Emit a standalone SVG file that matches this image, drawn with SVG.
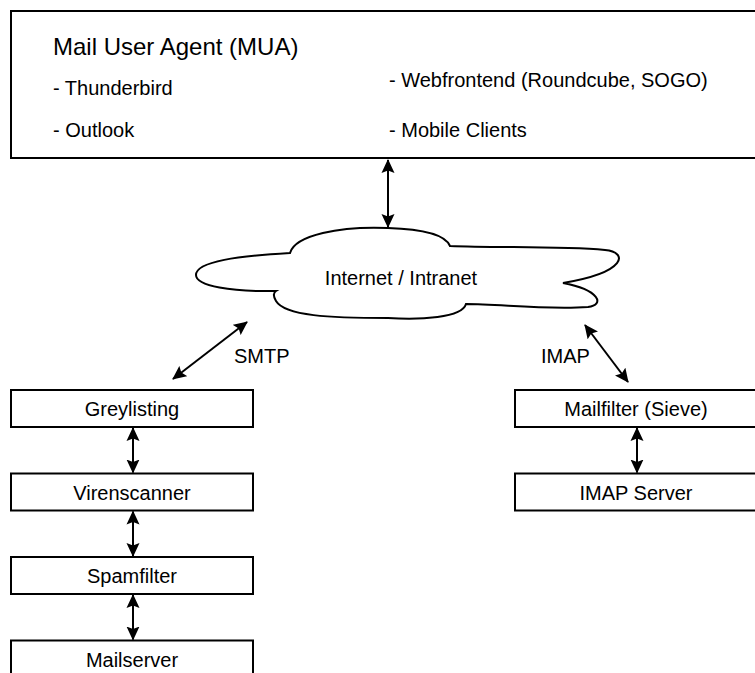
<svg xmlns="http://www.w3.org/2000/svg" width="755" height="673" viewBox="0 0 755 673">
<style>
  .box { fill: #fff; stroke: #000; stroke-width: 2; }
  .t { font-family: "Liberation Sans", Arial, sans-serif; fill: #000; }
  .lbl { font-size: 20px; text-anchor: middle; }
  .conn { stroke: #000; stroke-width: 2; fill: none; marker-start: url(#ah); marker-end: url(#ah); }
</style>
<defs>
  <marker id="ah" viewBox="0 0 14 14" refX="13" refY="7" markerWidth="14" markerHeight="14" markerUnits="userSpaceOnUse" orient="auto-start-reverse">
    <path d="M0,0.5 L14,7 L0,13.5 L2.5,7 Z" fill="#000"/>
  </marker>
</defs>
<rect width="755" height="673" fill="#fff"/>

<g id="mua">
  <rect class="box" x="11" y="11" width="760" height="147"/>
  <text class="t" x="53" y="55" font-size="24">Mail User Agent (MUA)</text>
  <text class="t" x="53" y="95" font-size="20">- Thunderbird</text>
  <text class="t" x="53" y="137" font-size="20">- Outlook</text>
  <text class="t" x="389" y="87" font-size="20">- Webfrontend (Roundcube, SOGO)</text>
  <text class="t" x="389" y="137" font-size="20">- Mobile Clients</text>
</g>

<g id="cloud">
  <path class="box" d="M290,253 C295,235 340,226 388,228 C420,229 445,234 450,246 C500,248 560,246 605,250 C628,252 628,272 563,283 C600,290 605,305 588,307 C545,310 500,304 466,304 C462,318 420,320 388,318 C330,318 285,316 276,301 C273,296 273,293 276,291 C232,292 196,286 196,275 C196,261 240,256 290,253 Z"/>
  <text class="t lbl" x="401" y="285">Internet / Intranet</text>
</g>

<g id="greylisting">
  <rect class="box" x="11" y="390" width="242" height="37"/>
  <text class="t lbl" x="132" y="416">Greylisting</text>
</g>
<g id="virenscanner">
  <rect class="box" x="11" y="473.5" width="242" height="37"/>
  <text class="t lbl" x="132" y="499.5">Virenscanner</text>
</g>
<g id="spamfilter">
  <rect class="box" x="11" y="557" width="242" height="37"/>
  <text class="t lbl" x="132" y="583">Spamfilter</text>
</g>
<g id="mailserver">
  <rect class="box" x="11" y="640.5" width="242" height="40"/>
  <text class="t lbl" x="132" y="666.5">Mailserver</text>
</g>
<g id="mailfilter">
  <rect class="box" x="515" y="390" width="260" height="37"/>
  <text class="t lbl" x="636" y="416">Mailfilter (Sieve)</text>
</g>
<g id="imapserver">
  <rect class="box" x="515" y="473.5" width="260" height="37"/>
  <text class="t lbl" x="636" y="499.5">IMAP Server</text>
</g>

<g id="connectors">
  <line class="conn" x1="388" y1="160" x2="388" y2="227"/>
  <line class="conn" x1="173" y1="379" x2="247" y2="322"/>
  <line class="conn" x1="628" y1="382" x2="585" y2="325"/>
  <line class="conn" x1="133" y1="428" x2="133" y2="472.5"/>
  <line class="conn" x1="133" y1="511.5" x2="133" y2="556"/>
  <line class="conn" x1="133" y1="595" x2="133" y2="639.5"/>
  <line class="conn" x1="637" y1="428" x2="637" y2="472.5"/>
  <text class="t" x="234" y="363" font-size="20">SMTP</text>
  <text class="t" x="541" y="363" font-size="20">IMAP</text>
</g>
</svg>
